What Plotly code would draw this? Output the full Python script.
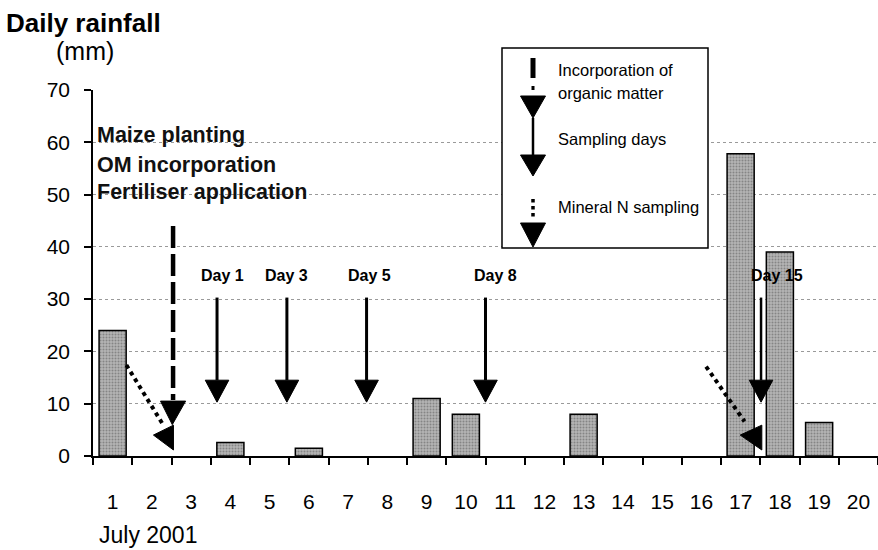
import plotly.graph_objects as go

# ---- data ----
days = list(range(1, 21))
day_labels = [str(d) for d in days]
rainfall = [24, 0, 0, 2.6, 0, 1.5, 0, 0, 11, 8, 0, 0, 8, 0, 0, 0, 57.8, 39, 6.4, 0]

y_ticks = [0, 10, 20, 30, 40, 50, 60, 70]

sampling_x = [3.66, 5.44, 7.47, 10.5, 17.52]
sampling_labels = ["Day 1", "Day 3", "Day 5", "Day 8", "Day 15"]
sampling_label_x = [3.79, 5.42, 7.54, 10.75, 17.93]
sampling_top, sampling_tip = 30.3, 10.3

om_x, om_top, om_tip = 2.54, 44, 6.0

# mineral N sampling arrows: (x_start, y_start, x_end, y_end, tip_x, tip_y, base_x)
mineral_arrows = [
    (1.35, 17.4, 2.26, 6.3, 2.04, 4.0, 2.55),
    (16.12, 17.1, 17.1, 6.6, 16.99, 4.0, 17.54),
]

FONT = "Arial, Liberation Sans, sans-serif"

# plot area in pixels
L, R, T, B = 93, 878, 90, 456
W, H = 878, 550


def px(x):
    return (x - L) / (R - L)


def py(y):
    return (B - y) / (B - T)


fig = go.Figure()
fig.add_trace(go.Bar(
    x=days, y=rainfall, width=0.69,
    marker=dict(color="#a8a8a8",
                line=dict(color="black", width=[1.5 if v > 0 else 0 for v in rainfall]),
                pattern=dict(shape=".", fgcolor="#555555", bgcolor="#b4b4b4",
                             size=3, solidity=0.35)),
    showlegend=False, hoverinfo="skip",
))

shapes = []
annotations = []

HEAD_H = 4.2
HEAD_HW = 0.30

# sampling arrows
for i, (x, lab, lx) in enumerate(zip(sampling_x, sampling_labels, sampling_label_x)):
    lw = 3 if i < 4 else 2.5
    shapes.append(dict(type="line", xref="x", yref="y", x0=x, x1=x,
                       y0=sampling_top, y1=sampling_tip + HEAD_H,
                       line=dict(color="black", width=lw)))
    shapes.append(dict(type="path", xref="x", yref="y",
                       path=f"M{x-HEAD_HW},{sampling_tip+HEAD_H} L{x+HEAD_HW},{sampling_tip+HEAD_H} L{x},{sampling_tip} Z",
                       fillcolor="black", line=dict(color="black", width=1)))
    annotations.append(dict(x=lx, y=34.6, xref="x", yref="y", text=f"<b>{lab}</b>",
                            showarrow=False, font=dict(size=16, color="black", family=FONT)))

# OM incorporation arrow (dashed)
shapes.append(dict(type="line", xref="x", yref="y", x0=om_x, x1=om_x,
                   y0=om_top, y1=om_tip + HEAD_H + 0.5,
                   line=dict(color="black", width=4.5, dash="22px,6px")))
shapes.append(dict(type="path", xref="x", yref="y",
                   path=f"M{om_x-0.32},{om_tip+HEAD_H+0.3} L{om_x+0.32},{om_tip+HEAD_H+0.3} L{om_x-0.02},{om_tip} Z",
                   fillcolor="black", line=dict(color="black", width=1)))

# mineral N arrows (dotted)
for (xs, ys, xe, ye, tx, ty, bx) in mineral_arrows:
    shapes.append(dict(type="line", xref="x", yref="y", x0=xs, y0=ys, x1=xe, y1=ye,
                       line=dict(color="black", width=4, dash="dot")))
    shapes.append(dict(type="path", xref="x", yref="y",
                       path=f"M{tx},{ty} L{bx},{ty+1.9} L{bx},{ty-2.85} Z",
                       fillcolor="black", line=dict(color="black", width=1)))

# legend box
shapes.append(dict(type="rect", xref="paper", yref="paper",
                   x0=px(502), x1=px(708), y0=py(248), y1=py(48),
                   fillcolor="white", line=dict(color="black", width=1.5), layer="above"))
lx = px(533)
hw = 12.5 / (R - L)
# dashed sample
shapes.append(dict(type="line", xref="paper", yref="paper", x0=lx, x1=lx, y0=py(58), y1=py(78),
                   line=dict(color="black", width=5), layer="above"))
shapes.append(dict(type="line", xref="paper", yref="paper", x0=lx, x1=lx, y0=py(86), y1=py(90),
                   line=dict(color="black", width=3), layer="above"))
shapes.append(dict(type="path", xref="paper", yref="paper",
                   path=f"M{lx-hw},{py(96)} L{lx+hw},{py(96)} L{lx},{py(118)} Z",
                   fillcolor="black", line=dict(color="black", width=1), layer="above"))
# solid sample
shapes.append(dict(type="line", xref="paper", yref="paper", x0=lx, x1=lx, y0=py(118), y1=py(155),
                   line=dict(color="black", width=2.5), layer="above"))
shapes.append(dict(type="path", xref="paper", yref="paper",
                   path=f"M{lx-hw},{py(155)} L{lx+hw},{py(155)} L{lx},{py(176)} Z",
                   fillcolor="black", line=dict(color="black", width=1), layer="above"))
# dotted sample
shapes.append(dict(type="line", xref="paper", yref="paper", x0=lx, x1=lx, y0=py(199), y1=py(219),
                   line=dict(color="black", width=3.5, dash="dot"), layer="above"))
shapes.append(dict(type="path", xref="paper", yref="paper",
                   path=f"M{lx-hw},{py(223)} L{lx+hw},{py(223)} L{lx},{py(247)} Z",
                   fillcolor="black", line=dict(color="black", width=1), layer="above"))

legend_texts = [("Incorporation of", 70), ("organic matter", 93),
                ("Sampling days", 139), ("Mineral N sampling", 207)]
for t, yy in legend_texts:
    annotations.append(dict(x=px(556), y=py(yy), xref="paper", yref="paper", text=t,
                            xanchor="left", yanchor="middle", showarrow=False,
                            font=dict(size=16.5, color="black", family=FONT)))

# event text
for t, yy in [("Maize planting", 135), ("OM incorporation", 165), ("Fertiliser application", 192)]:
    annotations.append(dict(x=px(95), y=py(yy), xref="paper", yref="paper", text=f"<b>{t}</b>",
                            xanchor="left", yanchor="middle", showarrow=False,
                            font=dict(size=21.5, color="#111", family=FONT)))

# titles
annotations.append(dict(x=px(4), y=py(23), xref="paper", yref="paper", text="<b>Daily rainfall</b>",
                        xanchor="left", yanchor="middle", showarrow=False,
                        font=dict(size=26, color="black", family=FONT)))
annotations.append(dict(x=px(54), y=py(51), xref="paper", yref="paper", text="(mm)",
                        xanchor="left", yanchor="middle", showarrow=False,
                        font=dict(size=25, color="black", family=FONT)))
annotations.append(dict(x=px(97), y=py(535), xref="paper", yref="paper", text="July 2001",
                        xanchor="left", yanchor="middle", showarrow=False,
                        font=dict(size=23, color="black", family=FONT)))

fig.update_layout(
    width=W, height=H,
    margin=dict(l=L, r=W - R, t=T, b=H - B),
    paper_bgcolor="white", plot_bgcolor="white",
    shapes=shapes, annotations=annotations,
    showlegend=False,
    xaxis=dict(range=[0.5, 20.5], tickvals=days, ticktext=day_labels, ticks="",
               showline=True, linecolor="black", linewidth=1.5, showgrid=False, zeroline=False,
               tickfont=dict(size=21, color="black", family=FONT), ticklabelstandoff=26,
               minor=dict(tick0=0.5, dtick=1, ticks="outside", ticklen=7, tickcolor="black",
                          tickwidth=1.5, showgrid=False)),
    yaxis=dict(range=[0, 70], tickvals=y_ticks, ticks="outside", ticklen=7, tickcolor="black",
               tickwidth=1.5, showline=True, linecolor="black", linewidth=1.5,
               showgrid=True, gridcolor="#9a9a9a", griddash="dot", gridwidth=1, zeroline=False,
               tickfont=dict(size=21, color="black", family=FONT), ticklabelstandoff=10),
    bargap=0.31,
)

fig.write_html("out.html", config={"displayModeBar": False},
               post_script="document.body.style.margin='0px';document.body.style.padding='0px';")
